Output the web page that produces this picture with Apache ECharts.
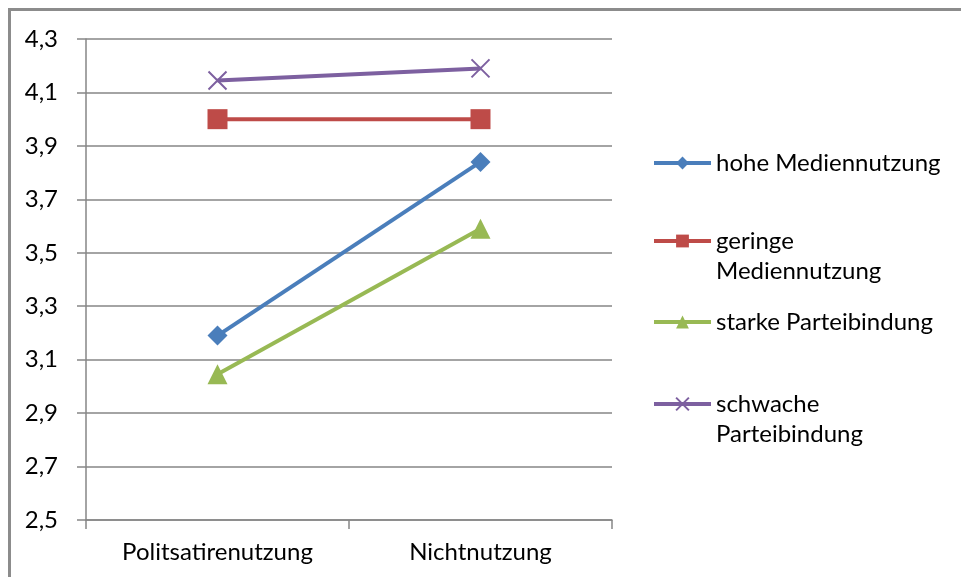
<!DOCTYPE html>
<html>
<head>
<meta charset="utf-8">
<script src="https://cdn.jsdelivr.net/npm/echarts@6/dist/echarts.min.js"></script>
<style>
  html, body { margin: 0; padding: 0; background: #fff; }
  #frame { position: absolute; left: 8px; top: 8px; width: 960px; height: 577px;
           border-left: 3px solid #8c8c8c; border-top: 3px solid #8c8c8c; }
  #chart { position: absolute; left: 0; top: 0; width: 961px; height: 577px; }
</style>
</head>
<body>
<div id="frame"></div>
<div id="chart"></div>
<script>
const categories = ['Politsatirenutzung', 'Nichtnutzung'];

const hoheMedien = [3.19, 3.84];
const geringeMedien = [4.0, 4.0];
const starkePartei = [3.045, 3.59];
const schwachePartei = [4.145, 4.19];

const seriesNames = ['hohe Mediennutzung', 'geringe Mediennutzung', 'starke Parteibindung', 'schwache Parteibindung'];
// leading blank line keeps the icon level with the first text line
const legendLabels = ['hohe Mediennutzung', ' \ngeringe\nMediennutzung', 'starke Parteibindung', ' \nschwache\nParteibindung'];

const colors = ['#4a7ebb', '#be4b48', '#98b954', '#7d60a0'];
const crossPath = 'path://M0,0L10,10M10,0L0,10';

const chart = echarts.init(document.getElementById('chart'));
const fontFamily = 'Lato, "Open Sans", sans-serif';

function makeSeries(name, data, color, symbol, size) {
  const s = {
    name: name,
    type: 'line',
    data: data,
    symbol: symbol,
    symbolSize: size,
    showAllSymbol: true,
    lineStyle: { color: color, width: 4 },
    itemStyle: { color: color },
    animation: false
  };
  if (symbol === crossPath) {
    s.itemStyle = { color: 'rgba(0,0,0,0)', borderColor: color, borderWidth: 2 };
  }
  return s;
}

// one legend per item so the wrapped labels sit like the original
const legendTops = [148, 196, 307, 359];
const legends = seriesNames.map((n, i) => ({
  data: [n],
  left: 652,
  top: legendTops[i],
  padding: 0,
  itemWidth: 57,
  itemHeight: 16,
  itemGap: 0,
  lineStyle: { width: 4 },
  formatter: () => legendLabels[i],
  textStyle: { fontFamily: fontFamily, fontSize: 24, color: '#000', lineHeight: 30 },
  selectedMode: false
}));

chart.setOption({
  backgroundColor: 'transparent',
  color: colors,
  legend: legends,
  grid: { left: 86, right: 349, top: 39, bottom: 57 },
  xAxis: {
    type: 'category',
    data: categories,
    boundaryGap: true,
    axisLine: { lineStyle: { color: '#868686', width: 1.5 } },
    axisTick: { show: true, length: 9, lineStyle: { color: '#868686', width: 1.5 } },
    axisLabel: { fontFamily: fontFamily, fontSize: 24, color: '#000', margin: 20 }
  },
  yAxis: {
    type: 'value',
    min: 2.5,
    max: 4.3,
    interval: 0.2,
    axisLine: { show: true, lineStyle: { color: '#868686', width: 1.5 } },
    axisTick: { show: true, length: 9, lineStyle: { color: '#868686', width: 1.5 } },
    splitLine: { lineStyle: { color: '#868686', width: 1.5 } },
    axisLabel: {
      fontFamily: fontFamily, fontSize: 24, color: '#000', margin: 28,
      formatter: v => v.toFixed(1).replace('.', ',')
    }
  },
  series: [
    makeSeries(seriesNames[0], hoheMedien, colors[0], 'diamond', 20),
    makeSeries(seriesNames[1], geringeMedien, colors[1], 'rect', 20),
    makeSeries(seriesNames[2], starkePartei, colors[2], 'triangle', 20),
    makeSeries(seriesNames[3], schwachePartei, colors[3], crossPath, 18)
  ]
});
</script>
</body>
</html>
